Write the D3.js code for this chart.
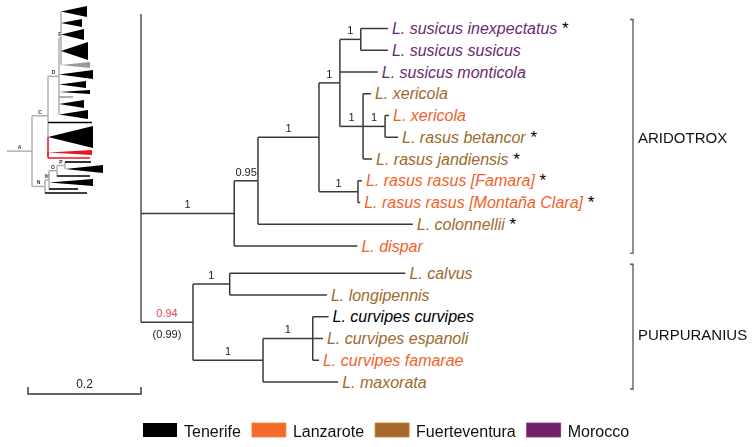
<!DOCTYPE html>
<html><head><meta charset="utf-8">
<script src="https://cdn.jsdelivr.net/npm/d3@7"></script>
<style>html,body{margin:0;padding:0;background:#fff;}svg{display:block;font-family:"Liberation Sans",Arial,sans-serif;}.bw{filter:grayscale(1);}</style>
</head><body><svg id="c" width="756" height="447"></svg>
<script>
// ---------- data ----------
const islands = ["Tenerife", "Lanzarote", "Fuerteventura", "Morocco"];
const islandFill = ["#000000", "#F26A2C", "#A6682A", "#73206A"];
const islandText = ["#000000", "#F2612A", "#9C6A2C", "#6A2A72"];

const nodeIds = ["root","arid","n095","nA","nS","nSus","t1","t2","t3","nXer","t4","nPair","t5","t6","t7","nRas","t8","t9","t10","t11","purp","nCal","t12","t13","nCM","nCur","t14","t15","t16","t17"];
const parentIds = ["","root","arid","n095","nA","nS","nSus","nSus","nS","nS","nXer","nXer","nPair","nPair","nXer","nA","nRas","nRas","n095","arid","root","purp","nCal","nCal","purp","nCM","nCur","nCur","nCur","nCM"];
const branchLengths = [0,0.165,0.042,0.108,0.037,0.037,0.048,0.048,0.067,0.041,0.014,0.039,0.007,0.023,0.016,0.069,0.007,0.004,0.274,0.218,0.092,0.065,0.311,0.172,0.124,0.088,0.028,0.018,0.011,0.133];
const supportValues = ["","1","0.95","1","1","1","","","","1","","1","","","","1","","","","","0.94","1","","","1","1","","","",""];
const highlightNode = "purp";
const highlightAlt = "(0.99)";

const tipNames = ["L. susicus inexpectatus","L. susicus susicus","L. susicus monticola","L. xericola","L. xericola","L. rasus betancor","L. rasus jandiensis","L. rasus rasus [Famara]","L. rasus rasus [Montaña Clara]","L. colonnellii","L. dispar","L. calvus","L. longipennis","L. curvipes curvipes","L. curvipes espanoli","L. curvipes famarae","L. maxorata"];
const tipIsland = [3,3,3,2,1,2,2,1,1,2,1,2,2,0,2,1,2];
const tipStar = [1,0,0,0,0,1,1,1,1,1,0,0,0,0,0,0,0];

const cladeNames = ["ARIDOTROX","PURPURANIUS"];
const cladeNodes = ["arid","purp"];
const cladeLabelRows = [5, 14.1];
const scaleBarValue = 0.2;

// inset thumbnail tree
const insetIds = ["A0","A","C","D","E","i1","i2","i3","i4","i5","i6","i7","i8","i9","i10","i11","i12","i13","R","i14","i15","N","M","O","P","i16","i17","i18","i19","i20","i21"];
const insetParents = ["","A0","A","C","D","E","E","E","E","E","D","D","D","D","D","D","C","C","C","R","R","A","N","M","O","P","P","O","M","M","N"];
const insetDepths = [0,25,41,52,54,80,75,77,81,83,86,79,83,66,77,81,85,86,41,85,83,38,42,50,58,84,96,83,86,71,80];
const insetSizes = [0,0,0,0,0,11,8,11,18,6,9,7,4,2,8,9,3,22,0,5,2,0,0,0,0,2,8,2,7,2,2];
const insetKinds = ["b","b","b","b","b","k","k","k","k","g","k","k","k","g","k","k","k","k","r","r","r","b","b","b","b","k","k","k","k","k","k"];
const insetLetters = ["","A","C","D","E","","","","","","","","","","","","","","","","","N","M","O","P","","","","","",""];

// ---------- drawing ----------
const svg = d3.select("#c");
const lineCol = "#3a3a3a";

const table = nodeIds.map((id,i)=>({id, parent: parentIds[i] || null, len: branchLengths[i], support: supportValues[i]}));
const root = d3.stratify().id(d=>d.id).parentId(d=>d.parent)(table);
root.each(n => { n.dist = (n.parent ? n.parent.dist : 0) + n.data.len; });

const x = d3.scaleLinear().domain([0, 1]).range([141, 706]);
const y = d3.scaleLinear().domain([0, 16.25]).range([28.5, 382]);

let pos = 0, prevTop = null;
const leaves = root.leaves();
leaves.forEach((lf, i) => {
  const top = lf.ancestors().find(a => a.parent === root);
  if (prevTop && top !== prevTop) pos += 0.25;
  prevTop = top;
  lf.row = pos; lf.tip = i; pos += 1;
  lf.py = y(lf.row);
});
root.eachAfter(n => { if (n.children) n.py = (n.children[0].py + n.children[n.children.length-1].py) / 2; });
root.each(n => { n.px = x(n.dist); });

const g = svg.append("g");
const gl = svg.append("g").attr("class", "bw");
g.append("line").attr("x1", root.px).attr("x2", root.px).attr("y1", 14)
  .attr("y2", root.children[root.children.length-1].py).attr("stroke", "#7a7a7a").attr("stroke-width", 2);

root.descendants().forEach(n => {
  if (n.parent) {
    g.append("line").attr("x1", n.parent.px).attr("x2", n.px).attr("y1", n.py).attr("y2", n.py)
      .attr("stroke", lineCol).attr("stroke-width", 1.5);
  }
  if (n.children && n.parent) {
    g.append("line").attr("x1", n.px).attr("x2", n.px)
      .attr("y1", n.children[0].py).attr("y2", n.children[n.children.length-1].py)
      .attr("stroke", lineCol).attr("stroke-width", 1.5);
  }
  if (n.data.support) {
    const hl = n.id === highlightNode;
    (hl ? g : gl).append("text").attr("x", (n.parent.px + n.px) / 2).attr("y", n.py - 5)
      .attr("text-anchor", "middle").attr("font-size", 11)
      .attr("fill", hl ? "#EE3E52" : "#222").text(n.data.support);
    if (hl) {
      gl.append("text").attr("x", (n.parent.px + n.px) / 2).attr("y", n.py + 16)
        .attr("text-anchor", "middle").attr("font-size", 11).attr("fill", "#222").text(highlightAlt);
    }
  }
});

leaves.forEach(lf => {
  const t = g.append("text").attr("x", lf.px + 4).attr("y", lf.py).attr("dy", "0.35em")
    .attr("font-size", 16);
  t.append("tspan").attr("font-style", "italic").attr("fill", islandText[tipIsland[lf.tip]]).text(tipNames[lf.tip]);
  if (tipStar[lf.tip]) t.append("tspan").attr("fill", "#000").attr("font-size", 17).text(" *");
});

cladeNodes.forEach((id, i) => {
  const node = root.descendants().find(d => d.id === id);
  const lv = node.leaves();
  const y1 = lv[0].py - 9, y2 = lv[lv.length-1].py + 7, bx = 633;
  g.append("path").attr("d", `M${bx-3},${y1}H${bx}V${y2}H${bx-3}`)
    .attr("fill", "none").attr("stroke", "#555").attr("stroke-width", 1.3);
  gl.append("text").attr("x", bx + 5).attr("y", y(cladeLabelRows[i])).attr("dy", "0.35em")
    .attr("font-size", 15).attr("fill", "#111").text(cladeNames[i]);
});

const sbLen = x(scaleBarValue) - x(0);
const sbX = 28, sbY = 394;
g.append("path").attr("d", `M${sbX},${sbY-7}V${sbY}H${sbX+sbLen}V${sbY-7}`)
  .attr("fill", "none").attr("stroke", "#333").attr("stroke-width", 1.4);
gl.append("text").attr("x", sbX + sbLen/2).attr("y", sbY - 6).attr("text-anchor", "middle")
  .attr("font-size", 12).attr("fill", "#222").text(String(scaleBarValue));

const lg = svg.append("g");
let lx = 143;
islands.forEach((name, i) => {
  lg.append("rect").attr("x", lx).attr("y", 423).attr("width", 34).attr("height", 14)
    .attr("fill", islandFill[i]).attr("stroke", i === 0 ? "none" : d3.color(islandFill[i]).brighter(0.6)).attr("stroke-width", 0.8);
  const t = gl.append("text").attr("x", lx + 41).attr("y", 437).attr("font-size", 16).attr("fill", "#111").text(name);
  lx += 41 + t.node().getComputedTextLength() + 11;
});

const itab = insetIds.map((id,i)=>({id, parent: insetParents[i] || null, depth: insetDepths[i], size: insetSizes[i], kind: insetKinds[i], letter: insetLetters[i]}));
const iroot = d3.stratify().id(d=>d.id).parentId(d=>d.parent)(itab);
const ix = d3.scaleLinear().domain([0, 100]).range([7, 107]);
const ileaves = iroot.leaves();
const gap = 2;
const totalUnits = d3.sum(ileaves, d => d.data.size) + gap * (ileaves.length - 1);
const iy = d3.scaleLinear().domain([0, totalUnits]).range([6, 194]);
let cum = 0;
ileaves.forEach(lf => { lf.py = iy(cum + lf.data.size / 2); lf.h = iy(lf.data.size) - iy(0); cum += lf.data.size + gap; });
iroot.eachAfter(n => { if (n.children) n.py = (n.children[0].py + n.children[n.children.length-1].py) / 2; });
iroot.each(n => { n.px = ix(n.data.depth); });
const colorOf = k => k === "r" ? "#E8161E" : k === "g" ? "#9a9a9a" : k === "k" ? "#000" : "#b0b0b0";
const ig = svg.append("g");
iroot.descendants().forEach(n => {
  if (n.children) {
    n.children.forEach((c, ci) => {
      if (ci === 0) return;
      const p = n.children[ci-1];
      ig.append("line").attr("x1", n.px).attr("x2", n.px).attr("y1", p.py).attr("y2", c.py)
        .attr("stroke", c.data.kind === "r" ? "#E8161E" : (n.data.kind === "r" ? "#E8161E" : "#b0b0b0")).attr("stroke-width", 1.5);
    });
    if (n.parent) {
      ig.append("line").attr("x1", n.parent.px).attr("x2", n.px).attr("y1", n.py).attr("y2", n.py)
        .attr("stroke", n.data.kind === "r" ? "#E8161E" : "#b0b0b0").attr("stroke-width", 1.5);
    }
  } else {
    const col = colorOf(n.data.kind);
    if (n.data.size > 3) {
      ig.append("path").attr("d", `M${n.parent.px},${n.py}L${n.px},${n.py - n.h/2}L${n.px},${n.py + n.h/2}Z`).attr("fill", col);
    } else {
      ig.append("line").attr("x1", n.parent.px).attr("x2", n.px).attr("y1", n.py).attr("y2", n.py)
        .attr("stroke", col).attr("stroke-width", 1.6);
    }
  }
  if (n.data.letter) {
    gl.append("text").attr("x", n.parent ? (n.parent.px + n.px)/2 : n.px).attr("y", n.py - 2)
      .attr("text-anchor", "middle").attr("font-size", 5).attr("font-weight", "bold").attr("fill", "#333").text(n.data.letter);
  }
});
</script></body></html>
